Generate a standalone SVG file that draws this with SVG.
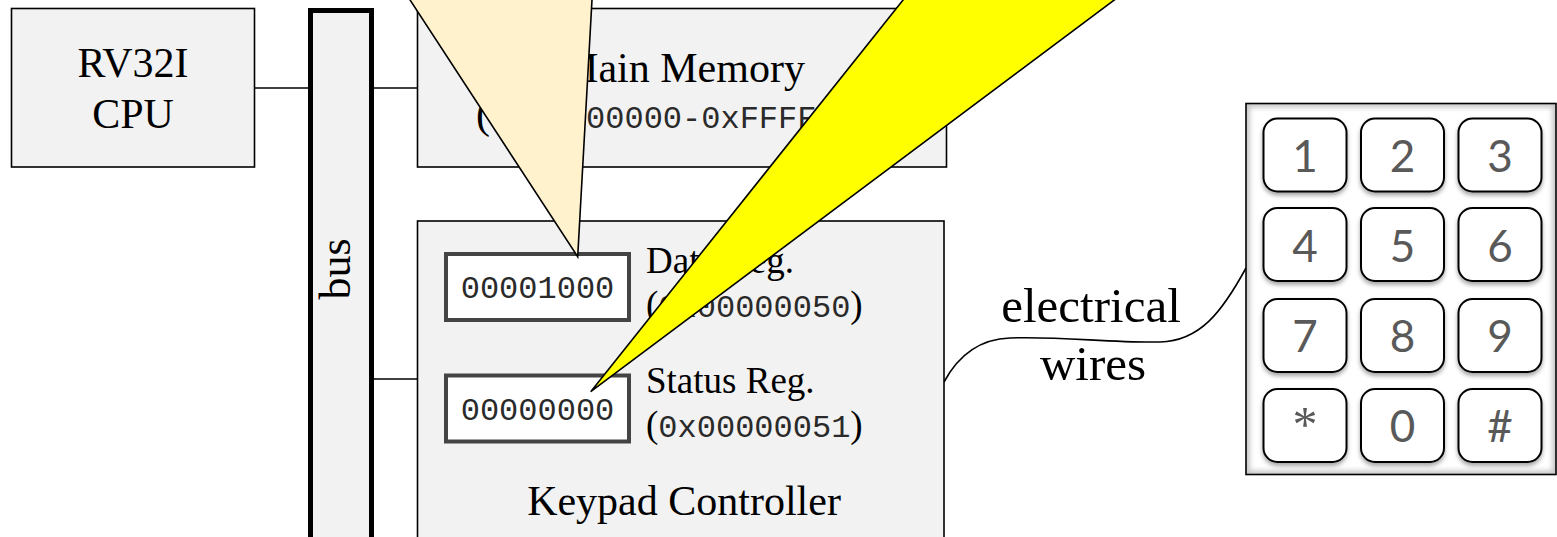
<svg xmlns="http://www.w3.org/2000/svg" width="1557" height="537" viewBox="0 0 1557 537">
  <defs>
    <style>
      .box { fill: #f2f2f2; stroke: #000; stroke-width: 1.6; }
      .title { font-family: "Liberation Serif", "Times New Roman", serif; font-size: 42px; fill: #000; }
      .label { font-family: "Liberation Serif", "Times New Roman", serif; font-size: 37px; fill: #000; }
      .mono { font-family: "Liberation Mono", "Courier New", monospace; font-size: 32px; fill: #2a2a2a; }
      .reg { fill: #fff; stroke: #444; stroke-width: 4; }
      .wire { fill: none; stroke: #000; stroke-width: 1.6; }
      .key { fill: #fff; stroke: #000; stroke-width: 2; }
      .keytext { font-family: "Lato", "Open Sans", sans-serif; font-size: 44px; fill: #595959; text-anchor: middle; }
      .callout { stroke: #000; stroke-width: 1.6; stroke-linejoin: miter; }
    </style>
    <filter id="keyShadow" x="-20%" y="-20%" width="140%" height="150%">
      <feDropShadow dx="0" dy="3" stdDeviation="2" flood-color="#000" flood-opacity="0.35"/>
    </filter>
    <filter id="soft" x="-5%" y="-5%" width="110%" height="110%">
      <feGaussianBlur stdDeviation="2.5"/>
    </filter>
    <clipPath id="padClip">
      <rect x="1246" y="103.5" width="310" height="371"/>
    </clipPath>
  </defs>

  <rect width="1557" height="537" fill="#fff"/>

  <!-- connectors: bus taps and the keypad cable -->
  <g id="connectors">
    <line class="wire" x1="255" y1="88" x2="310" y2="88"/>
    <line class="wire" x1="372" y1="88" x2="418" y2="88"/>
    <line class="wire" x1="372" y1="379" x2="418" y2="379"/>
    <path class="wire" d="M944,382 C958,356 980,339 1010,338 C1060,336 1110,343 1160,342 C1200,341 1222,312 1246,268"/>
    <text class="title" x="1091" y="322" text-anchor="middle" style="font-size:49px">electrical</text>
    <text class="title" x="1093" y="380" text-anchor="middle" style="font-size:49px">wires</text>
  </g>

  <!-- processor -->
  <g id="cpu">
    <rect class="box" x="11.5" y="8.5" width="243" height="158.5"/>
    <text class="title" x="133" y="77" text-anchor="middle">RV32I</text>
    <text class="title" x="133" y="128" text-anchor="middle">CPU</text>
  </g>

  <!-- system bus -->
  <g id="bus">
    <rect x="310.5" y="10.5" width="61" height="560" fill="#f2f2f2" stroke="#000" stroke-width="5"/>
    <text class="title" transform="translate(350,269) rotate(-90)" text-anchor="middle" style="font-size:44px">bus</text>
  </g>

  <!-- memory -->
  <g id="memory">
    <rect class="box" x="417.5" y="8.5" width="529" height="158.5"/>
    <text class="title" x="683" y="82" text-anchor="middle">Main Memory</text>
    <text x="476" y="128"><tspan class="title">(</tspan><tspan class="mono">0x00000000-0xFFFFFFFF</tspan><tspan class="title">)</tspan></text>
  </g>

  <!-- keypad controller with its two registers -->
  <g id="keypad-controller">
    <rect class="box" x="417.5" y="221" width="526.5" height="340"/>
    <rect class="reg" x="446" y="254" width="183" height="66"/>
    <text class="mono" x="537.5" y="298" text-anchor="middle">00001000</text>
    <rect class="reg" x="446" y="375.5" width="183" height="66"/>
    <text class="mono" x="537.5" y="420" text-anchor="middle">00000000</text>
    <text class="label" x="646" y="273">Data Reg.</text>
    <text x="646" y="317"><tspan class="label">(</tspan><tspan class="mono">0x00000050</tspan><tspan class="label">)</tspan></text>
    <text class="label" x="646" y="393">Status Reg.</text>
    <text x="646" y="437"><tspan class="label">(</tspan><tspan class="mono">0x00000051</tspan><tspan class="label">)</tspan></text>
    <text class="title" x="684" y="515" text-anchor="middle">Keypad Controller</text>
  </g>

  <!-- telephone-style keypad -->
  <g id="keypad">
    <rect x="1246" y="103.5" width="310" height="371" fill="#fff"/>
    <g clip-path="url(#padClip)">
      <rect x="1246" y="103.5" width="310" height="371" fill="none" stroke="#c8c8c8" stroke-width="8" filter="url(#soft)"/>
    </g>
    <rect x="1246" y="103.5" width="310" height="371" fill="none" stroke="#000" stroke-width="1.6"/>
    <g filter="url(#keyShadow)">
      <rect class="key" x="1263.5" y="118.5" width="83" height="73" rx="14"/>
      <rect class="key" x="1361" y="118.5" width="83" height="73" rx="14"/>
      <rect class="key" x="1458.5" y="118.5" width="83" height="73" rx="14"/>
      <rect class="key" x="1263.5" y="208" width="83" height="73" rx="14"/>
      <rect class="key" x="1361" y="208" width="83" height="73" rx="14"/>
      <rect class="key" x="1458.5" y="208" width="83" height="73" rx="14"/>
      <rect class="key" x="1263.5" y="299" width="83" height="73" rx="14"/>
      <rect class="key" x="1361" y="299" width="83" height="73" rx="14"/>
      <rect class="key" x="1458.5" y="299" width="83" height="73" rx="14"/>
      <rect class="key" x="1263.5" y="389" width="83" height="73" rx="14"/>
      <rect class="key" x="1361" y="389" width="83" height="73" rx="14"/>
      <rect class="key" x="1458.5" y="389" width="83" height="73" rx="14"/>
    </g>
    <text class="keytext" x="1305" y="172">1</text>
    <text class="keytext" x="1402.5" y="172">2</text>
    <text class="keytext" x="1500" y="172">3</text>
    <text class="keytext" x="1305" y="262">4</text>
    <text class="keytext" x="1402.5" y="262">5</text>
    <text class="keytext" x="1500" y="262">6</text>
    <text class="keytext" x="1305" y="352">7</text>
    <text class="keytext" x="1402.5" y="352">8</text>
    <text class="keytext" x="1500" y="352">9</text>
    <text class="keytext" x="1305" y="441" style="font-family:'Liberation Serif',serif;font-size:50px">*</text>
    <text class="keytext" x="1402.5" y="442">0</text>
    <text class="keytext" x="1500" y="442">#</text>
  </g>

  <!-- pointer tails from the annotation bubbles above -->
  <g id="callouts">
    <polygon class="callout" fill="#fff2cc" points="397,-20 593.1,-20 577.7,256.7"/>
    <polygon class="callout" fill="#ffff00" points="919,-20 1141,-20 590.7,391.7"/>
  </g>
</svg>
